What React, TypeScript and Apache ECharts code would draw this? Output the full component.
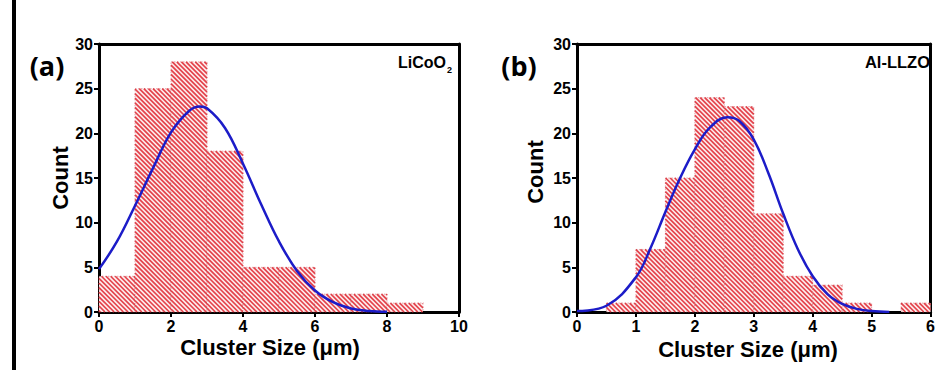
import React, { useEffect, useRef } from "react";
import * as echarts from "echarts";

// Panel (a): LiCoO2, bin width 1 µm
const binStartsA = [0, 1, 2, 3, 4, 5, 6, 7, 8, 9];
const binWidthA = 1;
const countsA = [4, 25, 28, 18, 5, 5, 2, 2, 1, 0];
const fitXA = [0, 0.5, 1, 1.5, 2, 2.5, 2.8, 3, 3.5, 4, 4.5, 5, 5.5, 6, 6.5, 7, 7.5, 8];
const fitYA = [4.8, 7.9, 11.9, 16.1, 20.1, 22.5, 23, 22.8, 20.6, 16.6, 12.1, 7.9, 4.6, 2.4, 1.1, 0.4, 0.12, 0.03];

// Panel (b): Al-LLZO, bin width 0.5 µm
const binStartsB = [0, 0.5, 1, 1.5, 2, 2.5, 3, 3.5, 4, 4.5, 5, 5.5];
const binWidthB = 0.5;
const countsB = [0, 1, 7, 15, 24, 23, 11, 4, 3, 1, 0, 1];
const fitXB = [0, 0.5, 1, 1.25, 1.5, 1.75, 2, 2.25, 2.55, 2.75, 3, 3.25, 3.5, 3.75, 4, 4.25, 4.5, 4.75, 5, 5.3];
const fitYB = [0.1, 0.7, 3.9, 7.2, 11.2, 15, 18.2, 20.6, 21.8, 21.4, 19.3, 15.5, 11, 7, 4, 2, 0.9, 0.35, 0.1, 0];

const yTicks = [0, 5, 10, 15, 20, 25, 30];

const FONT = "Liberation Sans, Arial, sans-serif";

function renderHist(params: any, api: any) {
  const x0 = api.value(0);
  const x1 = api.value(1);
  const v = api.value(2);
  if (!v) return null;
  const p0 = api.coord([x0, v]);
  const p1 = api.coord([x1, 0]);
  const left = p0[0], top = p0[1], right = p1[0], bottom = p1[1];
  const children: any[] = [
    { type: "rect", shape: { x: left, y: top, width: right - left, height: bottom - top }, style: { fill: "#fdf0f0", stroke: "none" } },
  ];
  const s = 4.6;
  const cMin = top - right;
  const cMax = bottom - left;
  for (let c = Math.ceil(cMin / s) * s; c <= cMax; c += s) {
    const xs = Math.max(left, top - c);
    const xe = Math.min(right, bottom - c);
    if (xe > xs) {
      children.push({
        type: "line",
        shape: { x1: xs, y1: xs + c, x2: xe, y2: xe + c },
        style: { stroke: "#e4434c", lineWidth: 1.7 },
      });
    }
  }
  children.push({
    type: "rect",
    shape: { x: left, y: top, width: right - left, height: bottom - top },
    style: { fill: "none", stroke: "rgba(190,40,50,0.5)", lineWidth: 0.8, lineDash: [1.5, 1.5] },
  });
  return { type: "group", children };
}

function histData(starts: number[], w: number, counts: number[]) {
  return starts.map((s, i) => [s, s + w, counts[i]]);
}

function labelStyle() {
  return {
    show: true,
    color: "#000",
    fontWeight: "bold",
    fontSize: 16,
    fontFamily: "Arial",
    margin: 6,
  };
}

function xAxisCfg(gridIndex: number, max: number, interval: number) {
  return {
    type: "value",
    gridIndex,
    min: 0,
    max,
    interval,
    axisLine: { show: true, onZero: false, lineStyle: { color: "#000", width: 3 } },
    axisTick: { show: true, length: 5, lineStyle: { color: "#000", width: 2 } },
    axisLabel: labelStyle(),
    splitLine: { show: false },
  };
}

function yAxisCfg(gridIndex: number) {
  return {
    type: "value",
    gridIndex,
    min: yTicks[0],
    max: yTicks[yTicks.length - 1],
    interval: 5,
    axisLine: { show: true, onZero: false, lineStyle: { color: "#000", width: 3 } },
    axisTick: { show: true, length: 5, lineStyle: { color: "#000", width: 2 } },
    axisLabel: labelStyle(),
    splitLine: { show: false },
  };
}

function frameAxis(gridIndex: number, position: string, max: number) {
  return {
    type: "value",
    gridIndex,
    position,
    min: 0,
    max,
    axisLine: { show: true, onZero: false, lineStyle: { color: "#000", width: 3 } },
    axisTick: { show: false },
    axisLabel: { show: false },
    splitLine: { show: false },
  };
}

export default function App() {
  const ref = useRef<HTMLDivElement>(null);
  useEffect(() => {
    if (!ref.current) return;
    const chart = echarts.init(ref.current, null, { renderer: "svg" });
    const curveStyle = { color: "#1c1cc8", width: 2.5 };
    chart.setOption({
      animation: false,
      backgroundColor: "#fff",
      textStyle: { fontFamily: "Arial", fontSize: 16, fontWeight: "bold" },
      grid: [
        { left: 99, right: 479, top: 44, bottom: 58 },
        { left: 577, right: 2, top: 44, bottom: 58 },
      ],
      xAxis: [xAxisCfg(0, 10, 2), xAxisCfg(1, 6, 1), frameAxis(0, "top", 10), frameAxis(1, "top", 6)],
      yAxis: [yAxisCfg(0), yAxisCfg(1), frameAxis(0, "right", 30), frameAxis(1, "right", 30)],
      series: [
        {
          type: "custom",
          xAxisIndex: 0,
          yAxisIndex: 0,
          renderItem: renderHist,
          encode: { x: [0, 1], y: 2 },
          data: histData(binStartsA, binWidthA, countsA),
          z: 2,
        },
        {
          type: "custom",
          xAxisIndex: 1,
          yAxisIndex: 1,
          renderItem: renderHist,
          encode: { x: [0, 1], y: 2 },
          data: histData(binStartsB, binWidthB, countsB),
          z: 2,
        },
        {
          type: "line",
          xAxisIndex: 0,
          yAxisIndex: 0,
          smooth: 0.4,
          showSymbol: false,
          symbol: "none",
          lineStyle: curveStyle,
          data: fitXA.map((x, i) => [x, fitYA[i]]),
          z: 3,
        },
        {
          type: "line",
          xAxisIndex: 1,
          yAxisIndex: 1,
          smooth: 0.4,
          showSymbol: false,
          symbol: "none",
          lineStyle: curveStyle,
          data: fitXB.map((x, i) => [x, fitYB[i]]),
          z: 3,
        },
      ],
      graphic: [
        { type: "rect", shape: { x: 12, y: 0, width: 4, height: 370 }, style: { fill: "#000" } },
        { type: "text", x: 47, y: 65, style: { text: "(a)", font: "bold 27px Open Sans, sans-serif", fill: "#000", textAlign: "center", textVerticalAlign: "middle" } },
        { type: "text", x: 519, y: 65, style: { text: "(b)", font: "bold 27px Open Sans, sans-serif", fill: "#000", textAlign: "center", textVerticalAlign: "middle" } },
        {
          type: "text",
          x: 452,
          y: 54,
          style: {
            text: "{a|LiCoO}{s|2}",
            textAlign: "right",
            fill: "#000",
            rich: {
              a: { fontFamily: FONT, fontWeight: "bold", fontSize: 16, lineHeight: 20, verticalAlign: "top" },
              s: { fontFamily: FONT, fontWeight: "bold", fontSize: 9, lineHeight: 20, verticalAlign: "bottom", padding: [8, 0, 0, 1] },
            },
          },
        },
        { type: "text", x: 930, y: 62, style: { text: "Al-LLZO", font: `bold 16.5px ${FONT}`, fill: "#000", textAlign: "right", textVerticalAlign: "middle" } },
        { type: "text", x: 60, y: 178, rotation: Math.PI / 2, style: { text: "Count", font: `bold 22px ${FONT}`, fill: "#000", textAlign: "center", textVerticalAlign: "middle" } },
        { type: "text", x: 535, y: 172, rotation: Math.PI / 2, style: { text: "Count", font: `bold 22px ${FONT}`, fill: "#000", textAlign: "center", textVerticalAlign: "middle" } },
        { type: "text", x: 270, y: 347, style: { text: "Cluster Size (μm)", font: `bold 22px ${FONT}`, fill: "#000", textAlign: "center", textVerticalAlign: "middle" } },
        { type: "text", x: 748, y: 349, style: { text: "Cluster Size (μm)", font: `bold 22px ${FONT}`, fill: "#000", textAlign: "center", textVerticalAlign: "middle" } },
      ],
    });
    return () => chart.dispose();
  }, []);
  return <div ref={ref} style={{ position: "fixed", left: 0, top: 0, width: 938, height: 370 }} />;
}
